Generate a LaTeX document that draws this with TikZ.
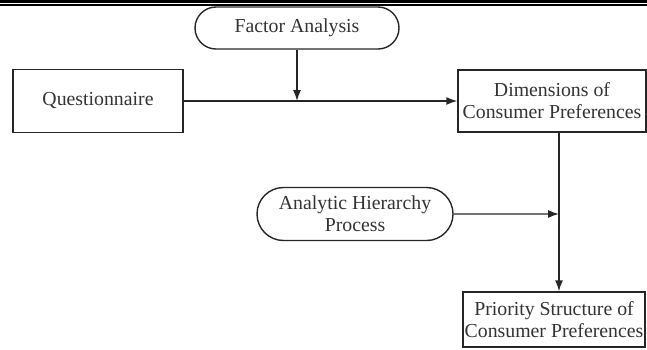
\documentclass[tikz,border=0pt]{standalone}
\usepackage{fontspec}
\setmainfont{Liberation Serif}
\usetikzlibrary{shapes.misc,arrows.meta}
\begin{document}
\begin{tikzpicture}[x=1pt,y=-1pt,
  every node/.style={font=\fontsize{19.8}{22}\selectfont, text=black!80, align=center, inner sep=0pt},
  boxnode/.style={draw=black!85, line width=1.4pt, rectangle},
  pill/.style={draw=black!85, line width=1.4pt, rounded rectangle},
  arr/.style={draw=black!85, line width=1.4pt, -{Latex[length=11pt,width=8pt]}},
  ln/.style={draw=black!85, line width=1.4pt}]
\useasboundingbox (0,0) rectangle (647,349);
\fill[black] (0,0) rectangle (647,3.3);
\fill[black] (0,4.4) rectangle (647,5.8);
\node[pill, minimum width=204pt, minimum height=42pt] (fa) at (297,28) {Factor Analysis};
\node[boxnode, minimum width=170pt, minimum height=63pt] (q) at (98,101) {Questionnaire};
\node[boxnode, minimum width=188pt, minimum height=62pt] (d) at (552,101) {Dimensions of\\Consumer Preferences};
\node[pill, minimum width=196pt, minimum height=53pt] (ahp) at (355,214) {Analytic Hierarchy\\Process};
\node[boxnode, minimum width=182pt, minimum height=55pt] (p) at (554,319.5) {Priority Structure of\\Consumer Preferences};
\coordinate (j) at (559,214);
\draw[arr] (q) -- (d);
\draw[arr] (fa) -- (fa |- q);
\draw[ln] (d.south -| j) -- (j);
\draw[arr] (j) -- (p.north -| j);
\draw[arr] (ahp) -- (j);
\end{tikzpicture}
\end{document}
